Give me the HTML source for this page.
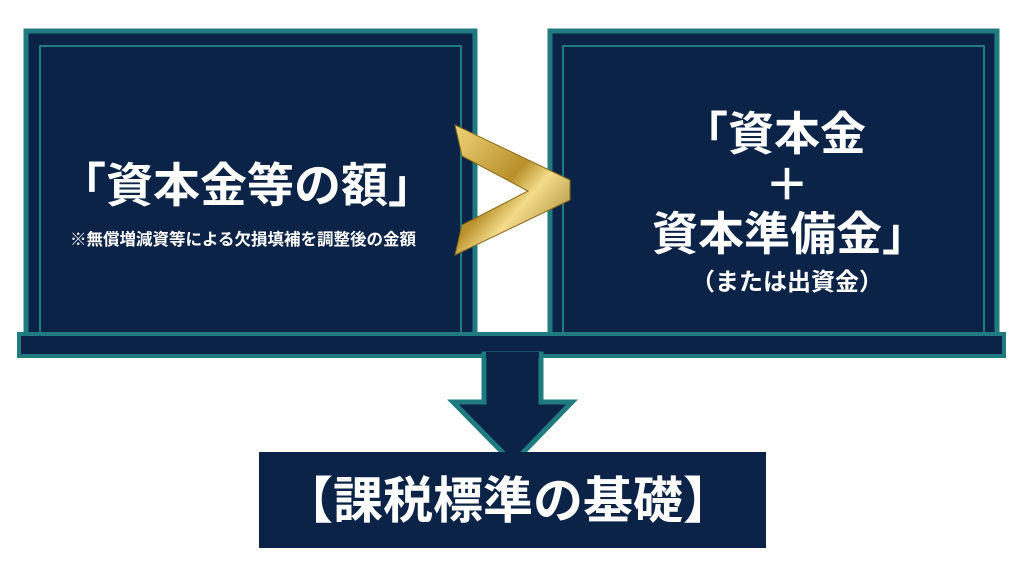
<!DOCTYPE html>
<html><head><meta charset="utf-8"><style>
html,body{margin:0;padding:0;background:#fff;}
svg text{font-family:"Liberation Sans","Noto Sans CJK JP",sans-serif;font-weight:bold;fill:#fff;}
</style></head><body>
<svg width="1024" height="558" viewBox="0 0 1024 558" xmlns="http://www.w3.org/2000/svg">
<defs>
<linearGradient id="g" x1="0" y1="0" x2="1" y2="1">
<stop offset="0" stop-color="#f0d47a"/><stop offset="0.45" stop-color="#b8902a"/><stop offset="0.6" stop-color="#f4dc8a"/><stop offset="1" stop-color="#8a6a1a"/>
</linearGradient>
</defs>
<rect width="1024" height="558" fill="#fff"/>
<rect x="26" y="31" width="449" height="310" fill="#0b2347" stroke="#1f7b80" stroke-width="5"/>
<rect x="40" y="46" width="421" height="290" fill="none" stroke="#1f7b80" stroke-width="2"/>
<rect x="550" y="31" width="447" height="310" fill="#0b2347" stroke="#1f7b80" stroke-width="5"/>
<rect x="563" y="46" width="421" height="290" fill="none" stroke="#1f7b80" stroke-width="2"/>
<rect x="19" y="334" width="985" height="22" fill="#0b2347" stroke="#1f7b80" stroke-width="4"/>
<polygon points="484,354 541,354 541,402 572,402 513,463 453,402 484,402" fill="#0b2347" stroke="#1f7b80" stroke-width="5" stroke-linejoin="miter"/>
<rect x="486" y="352" width="53" height="6" fill="#0b2347"/>
<rect x="259" y="452" width="507" height="96" fill="#0b2347"/>
<polygon points="486,452 541,452 513,463" fill="#0b2347"/>
<polygon points="455,125 570,180 570,200 455,255 462,225 528,191 462,156" fill="url(#g)" stroke="#8a6a1a" stroke-width="1"/>
<text x="247" y="202" font-size="47" text-anchor="middle">「資本金等の額」</text>
<text x="243" y="245" font-size="16.5" text-anchor="middle">※無償増減資等による欠損填補を調整後の金額</text>
<text x="774" y="150" font-size="46" text-anchor="middle">「資本金</text>
<text x="787" y="200" font-size="44" text-anchor="middle">＋</text>
<text x="790" y="250" font-size="46" text-anchor="middle">資本準備金」</text>
<text x="787" y="290" font-size="24" text-anchor="middle">（または出資金）</text>
<text x="508" y="518" font-size="50" text-anchor="middle">【課税標準の基礎】</text>
</svg>
</body></html>
